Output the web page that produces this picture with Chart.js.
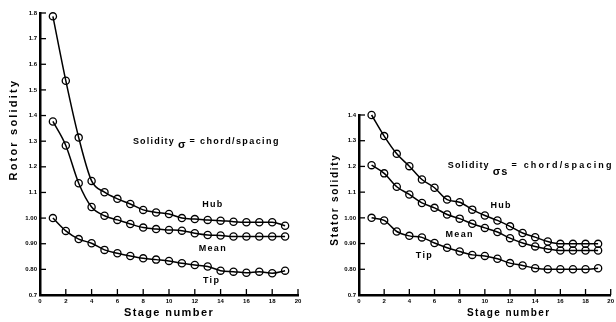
<!DOCTYPE html>
<html>
<head>
<meta charset="utf-8">
<script src="https://cdn.jsdelivr.net/npm/chart.js@4.4.1/dist/chart.umd.min.js"></script>
<style>
  body { margin: 0; background: #fff; }
  #wrap { position: relative; width: 616px; height: 322px; overflow: hidden; }
  canvas { position: absolute; top: 0; }
  #rotorChart { left: 0; }
  #statorChart { left: 308px; }
</style>
</head>
<body>
<div id="wrap">
  <canvas id="rotorChart" width="308" height="322"></canvas>
  <canvas id="statorChart" width="308" height="322"></canvas>
</div>
<script>
// Blade solidity along the compressor, stages 1-19
const stages = [1, 2, 3, 4, 5, 6, 7, 8, 9, 10, 11, 12, 13, 14, 15, 16, 17, 18, 19];

const rotorHub  = [1.787, 1.536, 1.314, 1.145, 1.101, 1.075, 1.055, 1.032, 1.022, 1.016, 1.000, 0.996, 0.993, 0.990, 0.986, 0.984, 0.984, 0.984, 0.970];
const rotorMean = [1.377, 1.283, 1.136, 1.043, 1.009, 0.993, 0.977, 0.963, 0.957, 0.954, 0.951, 0.941, 0.934, 0.932, 0.928, 0.928, 0.928, 0.928, 0.928];
const rotorTip  = [1.000, 0.950, 0.918, 0.902, 0.876, 0.863, 0.852, 0.843, 0.838, 0.833, 0.824, 0.817, 0.811, 0.795, 0.791, 0.787, 0.791, 0.785, 0.795];

const statorHub  = [1.400, 1.318, 1.249, 1.201, 1.149, 1.117, 1.071, 1.061, 1.032, 1.009, 0.990, 0.967, 0.941, 0.925, 0.908, 0.899, 0.899, 0.899, 0.899];
const statorMean = [1.205, 1.173, 1.121, 1.091, 1.058, 1.039, 1.013, 0.997, 0.977, 0.961, 0.945, 0.921, 0.902, 0.889, 0.879, 0.873, 0.873, 0.873, 0.873];
const statorTip  = [1.000, 0.990, 0.947, 0.930, 0.924, 0.902, 0.884, 0.869, 0.856, 0.852, 0.841, 0.824, 0.815, 0.804, 0.800, 0.800, 0.800, 0.800, 0.804];

const xTicks = [0, 2, 4, 6, 8, 10, 12, 14, 16, 18, 20];
const xTickLabels = ['0', '2', '4', '6', '8', '10', '12', '14', '16', '18', '20'];

const rotorYTicks = [0.7, 0.8, 0.9, 1.0, 1.1, 1.2, 1.3, 1.4, 1.5, 1.6, 1.7, 1.8];
const rotorYTickLabels = ['0.7', '0.80', '0.90', '1.00', '1.1', '1.2', '1.3', '1.4', '1.5', '1.6', '1.7', '1.8'];
const statorYTicks = [0.7, 0.8, 0.9, 1.0, 1.1, 1.2, 1.3, 1.4];
const statorYTickLabels = ['0.7', '0.80', '0.90', '1.00', '1.1', '1.2', '1.3', '1.4'];

const FONT = '"Liberation Sans", Arial, sans-serif';

function drawText(ctx, text, x, y, size, spacing, align) {
    ctx.font = 'bold ' + size + 'px ' + FONT;
    ctx.letterSpacing = spacing + 'px';
    ctx.textAlign = align || 'left';
    ctx.textBaseline = 'middle';
    ctx.fillText(text, x, y);
    return ctx.measureText(text).width;
}

// Inner tick marks, curve names, the solidity definition and axis titles
const notesPlugin = {
    id: 'notes',
    afterDraw(chart, args, opts) {
        const ctx = chart.ctx;
        const xs = chart.scales.x;
        const ys = chart.scales.y;
        const area = chart.chartArea;
        ctx.save();
        ctx.strokeStyle = '#000';
        ctx.fillStyle = '#000';
        ctx.lineWidth = 1.3;

        xs.ticks.forEach(t => {
            const px = xs.getPixelForValue(t.value);
            if (px <= area.left + 1) return;
            ctx.beginPath();
            ctx.moveTo(px, area.bottom);
            ctx.lineTo(px, area.bottom - 6);
            ctx.stroke();
        });
        ys.ticks.forEach(t => {
            const py = ys.getPixelForValue(t.value);
            if (py >= area.bottom - 1) return;
            ctx.beginPath();
            ctx.moveTo(area.left, py);
            ctx.lineTo(area.left + 6, py);
            ctx.stroke();
        });

        opts.labels.forEach(l => {
            drawText(ctx, l.text, xs.getPixelForValue(l.x), ys.getPixelForValue(l.y), 9, 1.3, 'center');
        });

        const f = opts.formula;
        let px = xs.getPixelForValue(f.x);
        const py = ys.getPixelForValue(f.y);
        px += drawText(ctx, 'Solidity', px, py, 9, 1.2) + 3;
        px += drawText(ctx, f.symbol, px, py + f.drop, 11, 1) + 3;
        drawText(ctx, '= chord/spacing', px, py, 9, f.spacing);

        drawText(ctx, 'Stage number', xs.getPixelForValue(opts.xTitle.x), area.bottom + 18, opts.xTitle.size, 1.4, 'center');

        ctx.translate(area.left + opts.yTitle.dx, ys.getPixelForValue(opts.yTitle.y));
        ctx.rotate(-Math.PI / 2);
        drawText(ctx, opts.yTitle.text, 0, 0, opts.yTitle.size, opts.yTitle.spacing, 'center');
        ctx.restore();
    }
};

function series(values) {
    return {
        data: stages.map((s, i) => ({ x: s, y: values[i] })),
        borderColor: '#000',
        borderWidth: 1.5,
        pointRadius: 3.6,
        pointBorderWidth: 1.3,
        pointBorderColor: '#000',
        pointBackgroundColor: 'rgba(255,255,255,0)',
        cubicInterpolationMode: 'monotone',
        fill: false,
        clip: 8
    };
}

function createSolidityChart(id, hub, mean, tip, yTicks, yLabels, axisWidth, padding, notes) {
    const ctx = document.getElementById(id).getContext('2d');
    const tickFont = { size: 6, weight: 'bold', family: FONT };

    new Chart(ctx, {
        type: 'line',
        data: { datasets: [series(hub), series(mean), series(tip)] },
        options: {
            responsive: false,
            animation: false,
            layout: { padding: padding },
            plugins: {
                legend: { display: false },
                tooltip: { enabled: false },
                notes: notes
            },
            scales: {
                x: {
                    type: 'linear',
                    min: 0,
                    max: 20,
                    afterBuildTicks: s => { s.ticks = xTicks.map(v => ({ value: v })); },
                    ticks: {
                        callback: (v, i) => xTickLabels[i],
                        font: tickFont,
                        color: '#000',
                        padding: 3,
                        maxRotation: 0,
                        autoSkip: false
                    },
                    grid: { drawOnChartArea: false, drawTicks: false },
                    border: { color: '#000', width: 2.5 },
                    afterFit: s => { s.height = 27; s.paddingLeft = 0; s.paddingRight = 0; }
                },
                y: {
                    type: 'linear',
                    min: yTicks[0],
                    max: yTicks[yTicks.length - 1],
                    afterBuildTicks: s => { s.ticks = yTicks.map(v => ({ value: v })); },
                    ticks: {
                        callback: (v, i) => yLabels[i],
                        font: tickFont,
                        color: '#000',
                        padding: 3,
                        autoSkip: false
                    },
                    grid: { drawOnChartArea: false, drawTicks: false },
                    border: { color: '#000', width: 2.5 },
                    afterFit: s => { s.width = axisWidth; s.paddingTop = 0; s.paddingBottom = 0; }
                }
            }
        },
        plugins: [notesPlugin]
    });
}

createSolidityChart('rotorChart', rotorHub, rotorMean, rotorTip, rotorYTicks, rotorYTickLabels, 40,
    { top: 13, right: 10, left: 0, bottom: 0 },
    {
        labels: [
            { text: 'Hub', x: 13.4, y: 1.052 },
            { text: 'Mean', x: 13.4, y: 0.88 },
            { text: 'Tip', x: 13.3, y: 0.755 }
        ],
        formula: { x: 7.2, y: 1.30, symbol: 'σ', drop: 4, spacing: 1.4 },
        xTitle: { x: 10, size: 11 },
        yTitle: { text: 'Rotor solidity', y: 1.345, dx: -26, size: 11, spacing: 2.2 }
    });

createSolidityChart('statorChart', statorHub, statorMean, statorTip, statorYTicks, statorYTickLabels, 51,
    { top: 115, right: 0, left: 0, bottom: 0 },
    {
        labels: [
            { text: 'Hub', x: 11.3, y: 1.048 },
            { text: 'Mean', x: 8.0, y: 0.934 },
            { text: 'Tip', x: 5.2, y: 0.852 }
        ],
        formula: { x: 7.05, y: 1.204, symbol: 'σs', drop: 7, spacing: 2.2 },
        xTitle: { x: 11.9, size: 10 },
        yTitle: { text: 'Stator solidity', y: 1.071, dx: -24, size: 10, spacing: 1.7 }
    });
</script>
</body>
</html>
